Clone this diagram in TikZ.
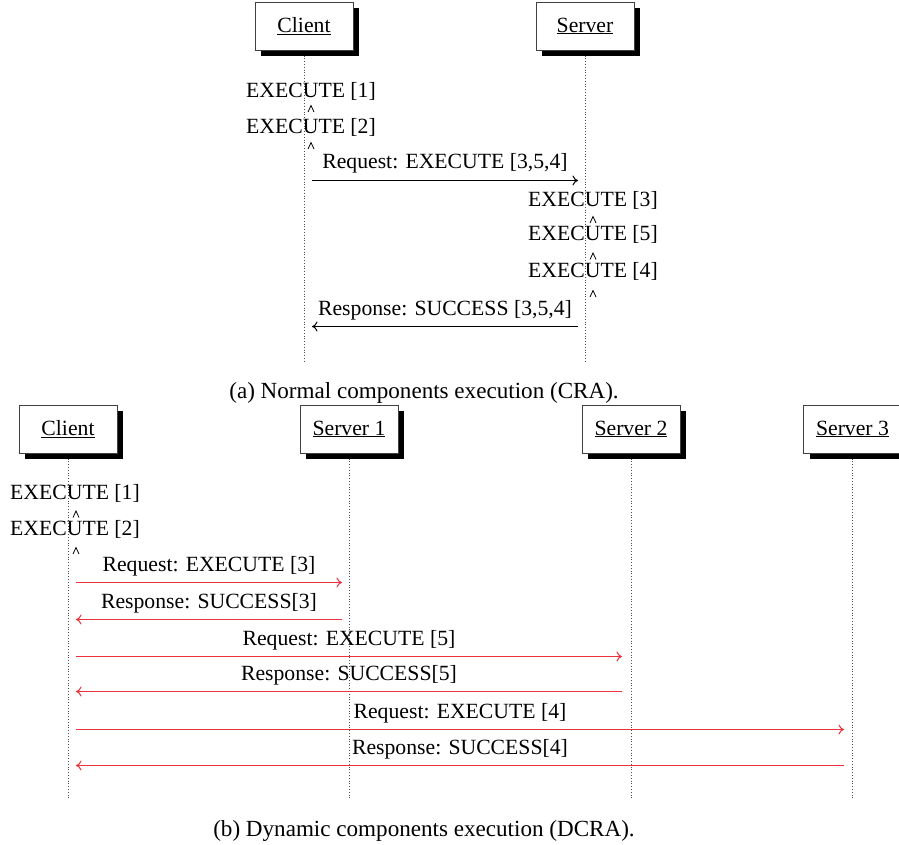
\documentclass[tikz,border=0pt]{standalone}
\usepackage{fontspec}
\setmainfont{Liberation Serif}
\usetikzlibrary{shadows,arrows.meta}
\definecolor{msgred}{RGB}{236,50,60}
\begin{document}
\begin{tikzpicture}[x=1pt,y=-1pt,
  every node/.style={font=\fontsize{21.7}{26}\selectfont, inner sep=0pt},
  actor/.style={draw=black!75, line width=0.8pt, fill=white, minimum width=98pt, minimum height=48pt,
    drop shadow={shadow xshift=6pt, shadow yshift=-6pt, fill=black, opacity=1}},
  life/.style={dotted, line width=0.8pt, black!70},
  msg/.style={-{To[length=5.5pt,width=10pt,line width=1pt]}, line width=1pt},
  rmsg/.style={msg, draw=msgred},
  exe/.style={anchor=base},
  lbl/.style={midway, anchor=base, yshift=11.5pt},
  capt/.style={font=\fontsize{23.1}{28}\selectfont, anchor=base},
  caret/.pic={\draw[line width=0.8pt] (-3,3) -- (0,-3.5) -- (3,3);}
]
\useasboundingbox (0,0) rectangle (899,845);

% ---------- (a) ----------
\coordinate (caS) at (304.5,50);
\coordinate (saS) at (585.5,50);
\coordinate (caE) at (304.5,361);
\coordinate (saE) at (585.5,361);
\draw[life] (caS) -- (caE);
\draw[life] (saS) -- (saE);
\node[actor] (ca) at (304,26) {\underline{Client}};
\node[actor] (sa) at (585,26) {\underline{Server}};

\node[exe] (e1a) at (311,97.3) {EXECUTE [1]};
\pic at (311,109) {caret};
\node[exe] (e2a) at (311,134) {EXECUTE [2]};
\pic at (311,146) {caret};

\coordinate (rqa1) at (312,180.5);
\coordinate (rqa2) at (578,180.5);
\draw[msg] (rqa1) -- node[lbl] (lrqa) {Request: EXECUTE [3,5,4]} (rqa2);

\node[exe] (e3a) at (593,207) {EXECUTE [3]};
\pic at (593,220) {caret};
\node[exe] (e5a) at (593,240.5) {EXECUTE [5]};
\pic at (593,256.5) {caret};
\node[exe] (e4a) at (593,277.7) {EXECUTE [4]};
\pic at (593,294) {caret};

\coordinate (rsa1) at (578,326.5);
\coordinate (rsa2) at (312,326.5);
\draw[msg] (rsa1) -- node[lbl] (lrsa) {Response: SUCCESS [3,5,4]} (rsa2);

\node[capt] (capa) at (424,398) {(a) Normal components execution (CRA).};

% ---------- (b) ----------
\coordinate (cbS) at (68.5,453);
\coordinate (s1S) at (349.5,453);
\coordinate (s2S) at (631.5,453);
\coordinate (s3S) at (852.5,453);
\coordinate (cbE) at (68.5,800);
\coordinate (s1E) at (349.5,800);
\coordinate (s2E) at (631.5,800);
\coordinate (s3E) at (852.5,800);
\draw[life] (cbS) -- (cbE);
\draw[life] (s1S) -- (s1E);
\draw[life] (s2S) -- (s2E);
\draw[life] (s3S) -- (s3E);
\node[actor] (cb) at (68,429) {\underline{Client}};
\node[actor] (s1) at (349,429) {\underline{Server 1}};
\node[actor] (s2) at (631,429) {\underline{Server 2}};
\node[actor] (s3) at (852.5,429) {\underline{Server 3}};

\node[exe] (e1b) at (75,499.3) {EXECUTE [1]};
\pic at (76,514.5) {caret};
\node[exe] (e2b) at (75,535) {EXECUTE [2]};
\pic at (76,551) {caret};

\coordinate (c3) at (76,582.5);  \coordinate (t3) at (342,582.5);
\coordinate (c3r) at (76,619.5); \coordinate (t3r) at (342,619.5);
\coordinate (c5) at (76,656.5);  \coordinate (t5) at (622,656.5);
\coordinate (c5r) at (76,691.5); \coordinate (t5r) at (622,691.5);
\coordinate (c4) at (76,729.5);  \coordinate (t4) at (844,729.5);
\coordinate (c4r) at (76,765.5); \coordinate (t4r) at (844,765.5);

\draw[rmsg] (c3) -- node[lbl] {Request: EXECUTE [3]} (t3);
\draw[rmsg] (t3r) -- node[lbl] {Response: SUCCESS[3]} (c3r);
\draw[rmsg] (c5) -- node[lbl] {Request: EXECUTE [5]} (t5);
\draw[rmsg] (t5r) -- node[lbl] {Response: SUCCESS[5]} (c5r);
\draw[rmsg] (c4) -- node[lbl] {Request: EXECUTE [4]} (t4);
\draw[rmsg] (t4r) -- node[lbl] {Response: SUCCESS[4]} (c4r);

\node[capt] (capb) at (424,836.7) {(b) Dynamic components execution (DCRA).};
\end{tikzpicture}
\end{document}
